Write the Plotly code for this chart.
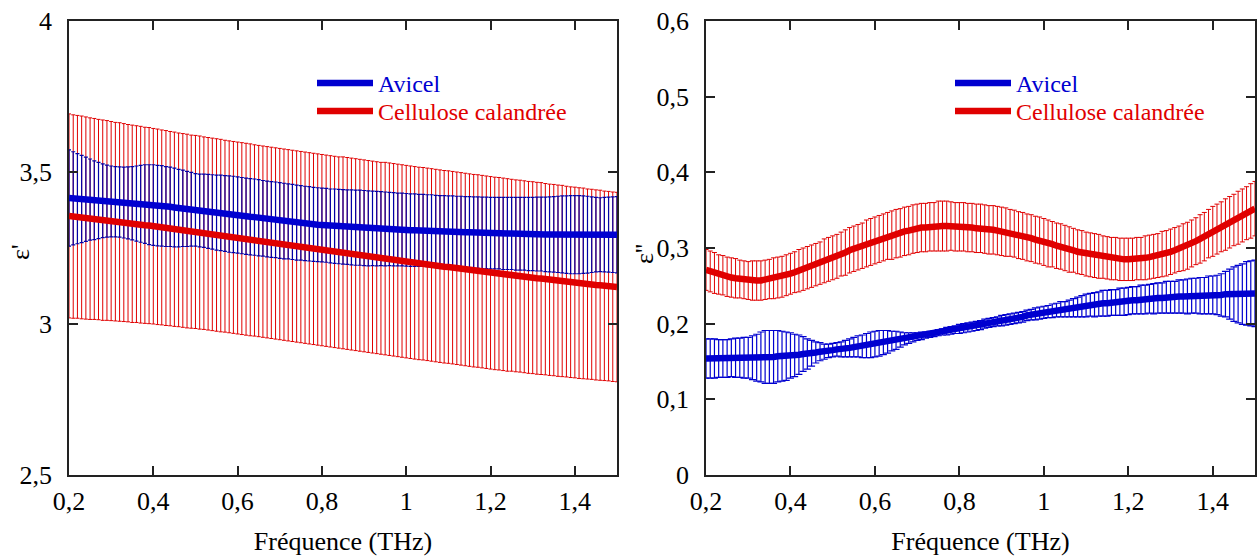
import plotly.graph_objects as go

# Frequency grid (THz)
freq = [0.20, 0.21, 0.22, 0.23, 0.24, 0.25, 0.26, 0.27, 0.28, 0.29,
        0.30, 0.31, 0.32, 0.33, 0.34, 0.35, 0.36, 0.37, 0.38, 0.39,
        0.40, 0.41, 0.42, 0.43, 0.44, 0.45, 0.46, 0.47, 0.48, 0.49,
        0.50, 0.51, 0.52, 0.53, 0.54, 0.55, 0.56, 0.57, 0.58, 0.59,
        0.60, 0.61, 0.62, 0.63, 0.64, 0.65, 0.66, 0.67, 0.68, 0.69,
        0.70, 0.71, 0.72, 0.73, 0.74, 0.75, 0.76, 0.77, 0.78, 0.79,
        0.80, 0.81, 0.82, 0.83, 0.84, 0.85, 0.86, 0.87, 0.88, 0.89,
        0.90, 0.91, 0.92, 0.93, 0.94, 0.95, 0.96, 0.97, 0.98, 0.99,
        1.00, 1.01, 1.02, 1.03, 1.04, 1.05, 1.06, 1.07, 1.08, 1.09,
        1.10, 1.11, 1.12, 1.13, 1.14, 1.15, 1.16, 1.17, 1.18, 1.19,
        1.20, 1.21, 1.22, 1.23, 1.24, 1.25, 1.26, 1.27, 1.28, 1.29,
        1.30, 1.31, 1.32, 1.33, 1.34, 1.35, 1.36, 1.37, 1.38, 1.39,
        1.40, 1.41, 1.42, 1.43, 1.44, 1.45, 1.46, 1.47, 1.48, 1.49,
        1.50]

# Left panel: epsilon' (real part)
eps1_cell = [3.356, 3.354, 3.353, 3.351, 3.349, 3.347, 3.346, 3.344, 3.342, 3.341,
             3.339, 3.337, 3.336, 3.334, 3.332, 3.330, 3.329, 3.327, 3.325, 3.324,
             3.322, 3.320, 3.318, 3.316, 3.314, 3.312, 3.310, 3.308, 3.306, 3.304,
             3.303, 3.301, 3.299, 3.297, 3.295, 3.293, 3.291, 3.289, 3.287, 3.285,
             3.283, 3.281, 3.279, 3.277, 3.275, 3.273, 3.271, 3.269, 3.267, 3.265,
             3.263, 3.261, 3.259, 3.257, 3.255, 3.253, 3.251, 3.249, 3.247, 3.245,
             3.243, 3.241, 3.239, 3.237, 3.235, 3.234, 3.232, 3.230, 3.228, 3.226,
             3.224, 3.222, 3.220, 3.218, 3.216, 3.215, 3.213, 3.211, 3.209, 3.207,
             3.205, 3.203, 3.201, 3.199, 3.198, 3.196, 3.194, 3.192, 3.190, 3.188,
             3.187, 3.185, 3.183, 3.181, 3.179, 3.177, 3.175, 3.174, 3.172, 3.170,
             3.168, 3.166, 3.165, 3.163, 3.161, 3.160, 3.158, 3.157, 3.155, 3.153,
             3.152, 3.150, 3.149, 3.147, 3.145, 3.144, 3.142, 3.141, 3.139, 3.137,
             3.136, 3.134, 3.133, 3.131, 3.130, 3.128, 3.127, 3.125, 3.124, 3.122,
             3.121]
eps1_cell_err = [0.337, 0.336, 0.335, 0.335, 0.334, 0.333, 0.332, 0.331, 0.331, 0.330,
                 0.329, 0.328, 0.328, 0.327, 0.326, 0.326, 0.325, 0.325, 0.324, 0.324,
                 0.323, 0.323, 0.322, 0.322, 0.321, 0.321, 0.320, 0.320, 0.320, 0.319,
                 0.319, 0.319, 0.318, 0.318, 0.318, 0.318, 0.318, 0.317, 0.317, 0.317,
                 0.317, 0.317, 0.317, 0.317, 0.316, 0.316, 0.316, 0.316, 0.316, 0.316,
                 0.316, 0.316, 0.316, 0.316, 0.316, 0.316, 0.316, 0.316, 0.316, 0.316,
                 0.316, 0.316, 0.316, 0.316, 0.316, 0.317, 0.317, 0.317, 0.317, 0.317,
                 0.317, 0.317, 0.317, 0.317, 0.317, 0.318, 0.318, 0.318, 0.318, 0.318,
                 0.318, 0.318, 0.318, 0.318, 0.318, 0.318, 0.318, 0.318, 0.318, 0.318,
                 0.318, 0.318, 0.318, 0.318, 0.318, 0.318, 0.318, 0.318, 0.318, 0.318,
                 0.318, 0.318, 0.318, 0.318, 0.318, 0.317, 0.317, 0.317, 0.317, 0.317,
                 0.317, 0.317, 0.317, 0.316, 0.316, 0.316, 0.316, 0.316, 0.315, 0.315,
                 0.315, 0.315, 0.315, 0.314, 0.314, 0.314, 0.314, 0.313, 0.313, 0.313,
                 0.313]
eps1_avicel = [3.415, 3.414, 3.413, 3.412, 3.411, 3.410, 3.408, 3.407, 3.406, 3.405,
               3.404, 3.403, 3.402, 3.400, 3.399, 3.398, 3.397, 3.396, 3.395, 3.393,
               3.392, 3.390, 3.389, 3.387, 3.386, 3.384, 3.382, 3.381, 3.379, 3.378,
               3.376, 3.374, 3.373, 3.371, 3.369, 3.367, 3.366, 3.364, 3.362, 3.361,
               3.359, 3.357, 3.355, 3.353, 3.352, 3.350, 3.348, 3.346, 3.344, 3.343,
               3.341, 3.339, 3.338, 3.336, 3.334, 3.333, 3.331, 3.330, 3.328, 3.327,
               3.326, 3.325, 3.323, 3.322, 3.321, 3.320, 3.319, 3.318, 3.317, 3.317,
               3.316, 3.315, 3.315, 3.314, 3.314, 3.313, 3.313, 3.312, 3.311, 3.311,
               3.310, 3.309, 3.309, 3.308, 3.308, 3.307, 3.307, 3.306, 3.305, 3.305,
               3.304, 3.304, 3.303, 3.303, 3.302, 3.302, 3.301, 3.301, 3.300, 3.300,
               3.299, 3.299, 3.299, 3.298, 3.298, 3.298, 3.297, 3.297, 3.297, 3.296,
               3.296, 3.296, 3.296, 3.295, 3.295, 3.295, 3.295, 3.295, 3.294, 3.294,
               3.294, 3.294, 3.294, 3.294, 3.294, 3.294, 3.294, 3.294, 3.294, 3.294,
               3.294]
eps1_avicel_err = [0.159, 0.154, 0.149, 0.144, 0.139, 0.134, 0.130, 0.126, 0.122, 0.119,
                   0.117, 0.116, 0.116, 0.117, 0.119, 0.121, 0.124, 0.127, 0.130, 0.132,
                   0.133, 0.133, 0.133, 0.132, 0.131, 0.130, 0.128, 0.126, 0.124, 0.122,
                   0.120, 0.120, 0.121, 0.122, 0.123, 0.124, 0.125, 0.125, 0.126, 0.126,
                   0.126, 0.126, 0.126, 0.126, 0.126, 0.126, 0.125, 0.125, 0.125, 0.125,
                   0.125, 0.125, 0.124, 0.124, 0.124, 0.123, 0.123, 0.123, 0.122, 0.122,
                   0.122, 0.122, 0.122, 0.123, 0.123, 0.123, 0.123, 0.124, 0.124, 0.124,
                   0.124, 0.124, 0.123, 0.123, 0.122, 0.122, 0.121, 0.121, 0.120, 0.120,
                   0.120, 0.120, 0.120, 0.119, 0.119, 0.119, 0.119, 0.118, 0.118, 0.118,
                   0.118, 0.118, 0.118, 0.118, 0.118, 0.118, 0.118, 0.118, 0.118, 0.118,
                   0.118, 0.118, 0.118, 0.119, 0.119, 0.119, 0.120, 0.120, 0.120, 0.121,
                   0.121, 0.122, 0.122, 0.123, 0.124, 0.125, 0.126, 0.127, 0.128, 0.129,
                   0.129, 0.129, 0.128, 0.127, 0.125, 0.123, 0.122, 0.123, 0.124, 0.125,
                   0.126]

# Right panel: epsilon'' (imaginary part)
eps2_cell = [0.271, 0.269, 0.267, 0.265, 0.264, 0.262, 0.261, 0.260, 0.259, 0.258,
             0.257, 0.257, 0.257, 0.257, 0.258, 0.259, 0.260, 0.261, 0.262, 0.264,
             0.266, 0.268, 0.270, 0.272, 0.274, 0.276, 0.278, 0.280, 0.283, 0.285,
             0.287, 0.289, 0.292, 0.294, 0.297, 0.299, 0.301, 0.303, 0.306, 0.308,
             0.310, 0.312, 0.314, 0.316, 0.317, 0.319, 0.320, 0.322, 0.323, 0.325,
             0.326, 0.327, 0.327, 0.328, 0.328, 0.329, 0.329, 0.329, 0.329, 0.328,
             0.328, 0.328, 0.327, 0.327, 0.326, 0.326, 0.325, 0.324, 0.324, 0.323,
             0.322, 0.321, 0.320, 0.319, 0.317, 0.316, 0.314, 0.313, 0.311, 0.310,
             0.308, 0.306, 0.305, 0.303, 0.302, 0.300, 0.298, 0.297, 0.295, 0.294,
             0.292, 0.291, 0.290, 0.289, 0.288, 0.287, 0.286, 0.286, 0.285, 0.285,
             0.285, 0.285, 0.286, 0.286, 0.287, 0.288, 0.289, 0.290, 0.292, 0.293,
             0.295, 0.297, 0.299, 0.301, 0.303, 0.306, 0.309, 0.312, 0.315, 0.319,
             0.322, 0.325, 0.328, 0.331, 0.334, 0.337, 0.340, 0.343, 0.346, 0.349,
             0.352]
eps2_cell_err = [0.027, 0.027, 0.027, 0.026, 0.026, 0.026, 0.026, 0.026, 0.025, 0.025,
                 0.025, 0.026, 0.026, 0.026, 0.026, 0.026, 0.027, 0.027, 0.027, 0.027,
                 0.027, 0.027, 0.028, 0.028, 0.028, 0.028, 0.028, 0.028, 0.029, 0.029,
                 0.029, 0.029, 0.029, 0.030, 0.030, 0.030, 0.030, 0.030, 0.031, 0.031,
                 0.031, 0.031, 0.031, 0.031, 0.032, 0.032, 0.032, 0.032, 0.032, 0.032,
                 0.032, 0.032, 0.032, 0.032, 0.032, 0.033, 0.033, 0.033, 0.032, 0.032,
                 0.032, 0.032, 0.032, 0.032, 0.032, 0.032, 0.032, 0.032, 0.032, 0.032,
                 0.032, 0.032, 0.031, 0.031, 0.031, 0.031, 0.031, 0.031, 0.031, 0.031,
                 0.031, 0.031, 0.030, 0.030, 0.030, 0.030, 0.030, 0.029, 0.029, 0.029,
                 0.029, 0.029, 0.029, 0.029, 0.028, 0.028, 0.028, 0.028, 0.028, 0.028,
                 0.028, 0.028, 0.028, 0.028, 0.029, 0.029, 0.029, 0.029, 0.030, 0.030,
                 0.030, 0.030, 0.030, 0.031, 0.031, 0.031, 0.031, 0.032, 0.032, 0.032,
                 0.033, 0.033, 0.033, 0.034, 0.034, 0.034, 0.035, 0.035, 0.035, 0.036,
                 0.036]
eps2_avicel = [0.154, 0.154, 0.154, 0.154, 0.154, 0.154, 0.155, 0.155, 0.155, 0.155,
               0.155, 0.155, 0.155, 0.156, 0.156, 0.156, 0.156, 0.157, 0.157, 0.157,
               0.158, 0.158, 0.159, 0.160, 0.160, 0.161, 0.162, 0.163, 0.163, 0.164,
               0.165, 0.166, 0.166, 0.167, 0.168, 0.169, 0.170, 0.170, 0.171, 0.172,
               0.173, 0.174, 0.175, 0.176, 0.177, 0.178, 0.179, 0.180, 0.181, 0.182,
               0.183, 0.184, 0.185, 0.186, 0.187, 0.188, 0.189, 0.190, 0.191, 0.192,
               0.193, 0.194, 0.195, 0.196, 0.197, 0.198, 0.200, 0.201, 0.202, 0.203,
               0.204, 0.205, 0.206, 0.207, 0.208, 0.209, 0.211, 0.212, 0.213, 0.214,
               0.215, 0.216, 0.217, 0.218, 0.219, 0.219, 0.220, 0.221, 0.222, 0.223,
               0.224, 0.225, 0.225, 0.226, 0.227, 0.227, 0.228, 0.228, 0.229, 0.229,
               0.230, 0.231, 0.231, 0.232, 0.232, 0.233, 0.233, 0.234, 0.234, 0.235,
               0.235, 0.235, 0.236, 0.236, 0.236, 0.237, 0.237, 0.237, 0.237, 0.238,
               0.238, 0.238, 0.238, 0.239, 0.239, 0.239, 0.239, 0.239, 0.240, 0.240,
               0.240]
eps2_avicel_err = [0.026, 0.026, 0.026, 0.025, 0.025, 0.025, 0.025, 0.026, 0.026, 0.027,
                   0.027, 0.029, 0.031, 0.033, 0.035, 0.035, 0.035, 0.034, 0.033, 0.032,
                   0.030, 0.028, 0.026, 0.023, 0.020, 0.017, 0.014, 0.012, 0.010, 0.009,
                   0.009, 0.009, 0.010, 0.011, 0.012, 0.013, 0.014, 0.015, 0.016, 0.017,
                   0.017, 0.017, 0.016, 0.015, 0.013, 0.012, 0.010, 0.008, 0.007, 0.006,
                   0.005, 0.005, 0.004, 0.004, 0.004, 0.004, 0.004, 0.005, 0.005, 0.005,
                   0.006, 0.006, 0.006, 0.006, 0.006, 0.006, 0.006, 0.006, 0.006, 0.006,
                   0.007, 0.007, 0.007, 0.007, 0.007, 0.007, 0.007, 0.007, 0.008, 0.008,
                   0.008, 0.008, 0.009, 0.009, 0.010, 0.010, 0.011, 0.012, 0.013, 0.014,
                   0.015, 0.015, 0.016, 0.016, 0.017, 0.017, 0.017, 0.017, 0.018, 0.018,
                   0.018, 0.018, 0.018, 0.019, 0.019, 0.019, 0.020, 0.020, 0.020, 0.021,
                   0.021, 0.021, 0.022, 0.022, 0.023, 0.023, 0.023, 0.024, 0.024, 0.025,
                   0.025, 0.026, 0.028, 0.030, 0.033, 0.036, 0.038, 0.040, 0.042, 0.043,
                   0.044]

x_ticks = [0.2, 0.4, 0.6, 0.8, 1.0, 1.2, 1.4]
y1_ticks = [2.5, 3.0, 3.5, 4.0]
y2_ticks = [0.0, 0.1, 0.2, 0.3, 0.4, 0.5, 0.6]
series_names = ["Avicel", "Cellulose calandrée"]

RED = "#e00000"
BLUE = "#0000d0"
BLUE_DARK = "#0000a8"
FONT = "'Liberation Serif', 'Times New Roman', Times, serif"

fig = go.Figure()


def err_trace(y, err, color, xa, ya, width, thick):
    return go.Scatter(
        x=freq, y=y, mode="markers", xaxis=xa, yaxis=ya,
        marker=dict(size=1, opacity=0, color=color),
        error_y=dict(type="data", array=err, visible=True, color=color,
                     thickness=thick, width=width),
        showlegend=False, hoverinfo="skip")


def label(name, color):
    return '<span style="color:%s">%s</span>' % (color, name)


# Left panel
fig.add_trace(err_trace(eps1_cell, eps1_cell_err, RED, "x", "y", 2, 1))
fig.add_trace(err_trace(eps1_avicel, eps1_avicel_err, BLUE_DARK, "x", "y", 2, 1.2))
fig.add_trace(go.Scatter(x=freq, y=eps1_cell, mode="lines", xaxis="x", yaxis="y",
                         line=dict(color=RED, width=6.5),
                         name=label(series_names[1], RED), legend="legend2"))
fig.add_trace(go.Scatter(x=freq, y=eps1_avicel, mode="lines", xaxis="x", yaxis="y",
                         line=dict(color=BLUE, width=6.5),
                         name=label(series_names[0], BLUE), legend="legend"))

# Right panel
fig.add_trace(err_trace(eps2_cell, eps2_cell_err, RED, "x2", "y2", 2.5, 1))
fig.add_trace(err_trace(eps2_avicel, eps2_avicel_err, BLUE, "x2", "y2", 3.5, 1.2))
fig.add_trace(go.Scatter(x=freq, y=eps2_cell, mode="lines", xaxis="x2", yaxis="y2",
                         line=dict(color=RED, width=6.5),
                         name=label(series_names[1], RED), legend="legend4"))
fig.add_trace(go.Scatter(x=freq, y=eps2_avicel, mode="lines", xaxis="x2", yaxis="y2",
                         line=dict(color=BLUE, width=6.5),
                         name=label(series_names[0], BLUE), legend="legend3"))

tickfont = dict(family=FONT, size=26, color="black")
titlefont = dict(family=FONT, size=26, color="black")
axis_common = dict(ticks="inside", ticklen=9, tickwidth=1.5, tickcolor="#222",
                   showline=True, linewidth=1.5, linecolor="#222", mirror="ticks",
                   showgrid=False, zeroline=False, tickfont=tickfont,
                   automargin=False)

W, H = 1257, 556
ml, mr, mt, mb = 69, 2, 21, 81
pw = W - ml - mr
ph = H - mt - mb
d1 = [0, 548 / pw]
d2 = [(706 - ml) / pw, 1]


def leg(xpix, toppix):
    return dict(x=(xpix - ml) / pw, y=1 - (toppix - mt) / ph,
                xanchor="left", yanchor="top", bgcolor="rgba(0,0,0,0)",
                borderwidth=0, font=dict(family=FONT, size=24), itemwidth=56)


def ytitle(text, xpix, ypix):
    return dict(text=text, xref="paper", yref="paper",
                x=(xpix - ml) / pw, y=1 - (ypix - mt) / ph,
                xanchor="center", yanchor="middle", textangle=-90,
                showarrow=False, font=titlefont)


fig.update_layout(
    width=W, height=H,
    margin=dict(l=ml, r=mr, t=mt, b=mb),
    paper_bgcolor="white", plot_bgcolor="white",
    separators=", ",
    font=dict(family=FONT, size=26, color="black"),
    xaxis=dict(domain=d1, range=[0.2, 1.5], tickvals=x_ticks, anchor="y",
               ticklabelstandoff=2,
               title=dict(text="Fréquence (THz)", font=titlefont, standoff=28),
               **axis_common),
    yaxis=dict(domain=[0, 1], range=[2.5, 4], tickvals=y1_ticks, anchor="x",
               ticklabelstandoff=10, **axis_common),
    xaxis2=dict(domain=d2, range=[0.2, 1.5], tickvals=x_ticks, anchor="y2",
                ticklabelstandoff=2,
                title=dict(text="Fréquence (THz)", font=titlefont, standoff=28),
                **axis_common),
    yaxis2=dict(domain=[0, 1], range=[0, 0.6], tickvals=y2_ticks, anchor="x2",
                ticklabelstandoff=10, **axis_common),
    legend=leg(312, 61),
    legend2=leg(312, 89),
    legend3=leg(950, 61),
    legend4=leg(950, 89),
    annotations=[ytitle("ε'", 21, 252), ytitle("ε''", 644, 254)],
)

fig.write_html("out.html", config={"displayModeBar": False},
               post_script="document.body.style.margin='0px';")
